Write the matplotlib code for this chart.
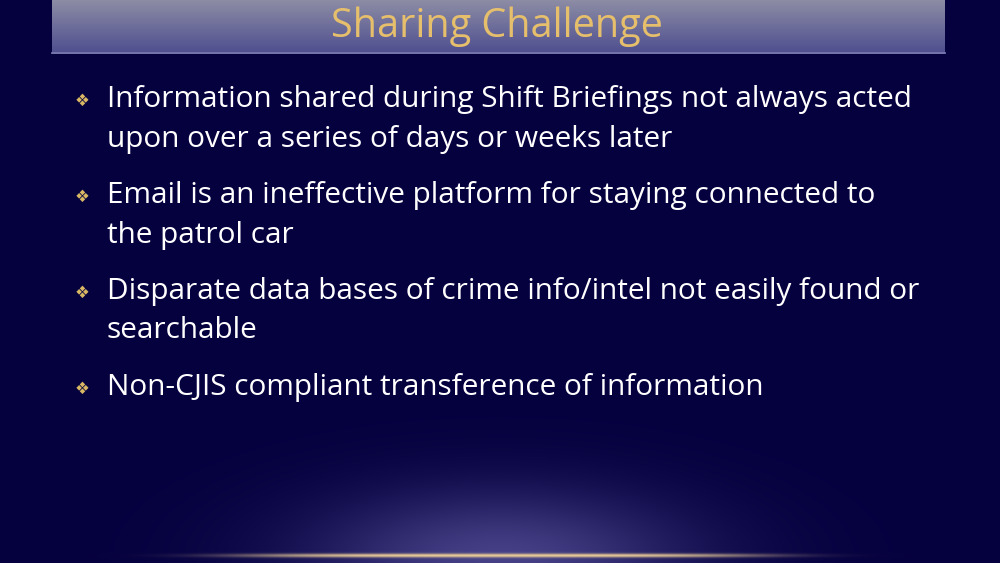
import numpy as np
import matplotlib
matplotlib.use("Agg")
import matplotlib.pyplot as plt

title = "Sharing Challenge"
bullets = [
    ["Information shared during Shift Briefings not always acted", "upon over a series of days or weeks later"],
    ["Email is an ineffective platform for staying connected to", "the patrol car"],
    ["Disparate data bases of crime info/intel not easily found or", "searchable"],
    ["Non-CJIS compliant transference of information"],
]
bullet_y = [100, 196, 292, 388]

W, H = 1000, 563
fig = plt.figure(figsize=(10, 5.63), dpi=100)
ax = fig.add_axes([0, 0, 1, 1])
ax.set_xlim(0, W); ax.set_ylim(H, 0); ax.axis("off")

yy, xx = np.mgrid[0:H, 0:W]
bg = np.zeros((H, W, 3))
base = np.array([5, 0, 62]) / 255
bg[:] = base
glow = np.exp(-(((xx - 500) / 190) ** 2 + ((yy - 560) / 70) ** 2))
glowc = np.array([70, 65, 135]) / 255
bg += glow[..., None] * (glowc - base)
line = np.exp(-((yy - 555) / 2.0) ** 2) * np.exp(-((xx - 500) / 260) ** 4)
bg += line[..., None] * (np.array([230, 200, 150]) / 255 - bg)
bg = np.clip(bg, 0, 1)
ax.imshow(bg, extent=(0, W, H, 0), zorder=0, aspect="auto")

n = 52
top = np.array([140, 140, 165]) / 255
bot = np.array([80, 80, 145]) / 255
t = np.linspace(0, 1, n)[:, None]
bar = (top * (1 - t) + bot * t)[:, None, :].repeat(893, axis=1)
ax.imshow(bar, extent=(52, 945, 52, 0), zorder=1, aspect="auto")
ax.plot([52, 945], [52.5, 52.5], color="#8a8ac0", lw=1.2, zorder=2)

ax.text(497, 27, title, color="#e6bf6c", fontsize=28.5, family="Open Sans",
        ha="center", va="center", zorder=3)

for lines, y in zip(bullets, bullet_y):
    ax.text(82, y + 1, "\u2756", color="#d9b865", fontsize=12, family="DejaVu Sans",
            ha="center", va="center", zorder=3)
    for i, s in enumerate(lines):
        ax.text(107, y + i * 39, s, color="white", fontsize=21.4, family="Open Sans",
                ha="left", va="center", zorder=3)

fig.savefig("out.png", dpi=100)
